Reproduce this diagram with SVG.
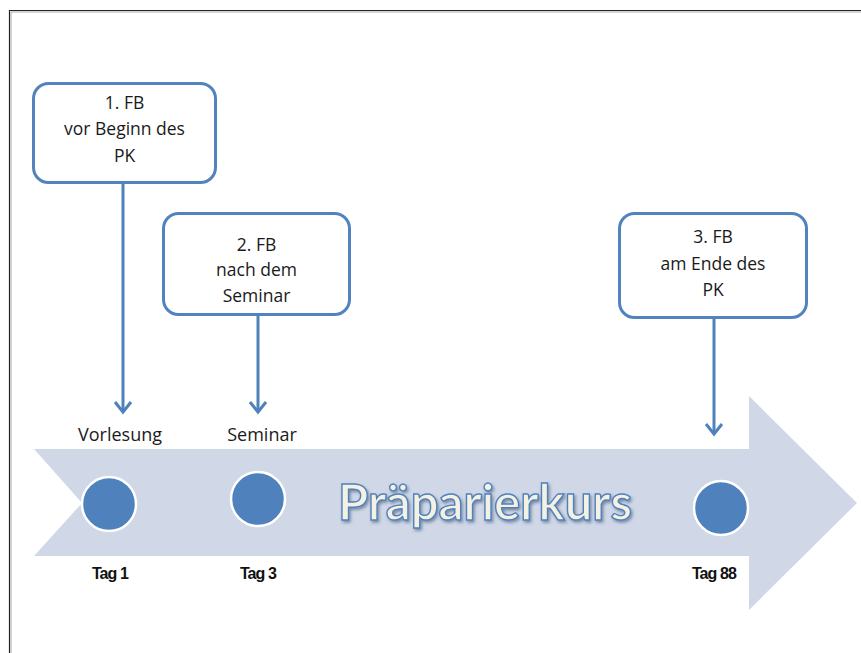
<svg xmlns="http://www.w3.org/2000/svg" width="861" height="653" viewBox="0 0 861 653">
<style>
.box{fill:#fff;stroke:#5283BF;stroke-width:3}
.bt{font-family:"Open Sans","Noto Sans",sans-serif;font-size:17.5px;fill:#1a1a1a;text-anchor:middle}
.lbl{font-family:"Open Sans","Noto Sans",sans-serif;font-size:18px;fill:#1a1a1a;text-anchor:middle}
.tag{font-family:"Liberation Sans",Arial,sans-serif;font-size:16px;font-weight:bold;fill:#111;text-anchor:middle;letter-spacing:-0.9px}
.dot{fill:#4F81BD;stroke:#fff;stroke-width:2.5}
.con{stroke:#4F81BD;stroke-width:3;fill:none}
</style>
<defs>
<marker id="ah" markerUnits="userSpaceOnUse" markerWidth="24" markerHeight="24" viewBox="-12 -14 24 24" refX="0" refY="0" orient="auto">
<path d="M-10,-8 L0,0 L-10,8" fill="none" stroke="#4F81BD" stroke-width="3"/>
</marker>
<filter id="sh" x="-10%" y="-20%" width="120%" height="150%">
<feDropShadow dx="1.5" dy="2" stdDeviation="1.5" flood-color="#1F3A60" flood-opacity="0.5"/>
</filter>
</defs>
<rect x="0" y="0" width="861" height="653" fill="#fff"/>
<path d="M9.5,653 V10.5 H861" fill="none" stroke="#222" stroke-width="1.2"/>
<path d="M11,653 V12 H861" fill="none" stroke="#aaa" stroke-width="1"/>
<g id="timeline">
<polygon points="34,449 749,449 749,396 857,503 749,610 749,556 34,556 82,503" fill="#D0D8E8"/>
<text x="338" y="520" font-family="Lato,'Open Sans',sans-serif" font-weight="bold" font-size="50" textLength="294" lengthAdjust="spacingAndGlyphs" fill="#F4F1E2" stroke="#4F81BD" stroke-width="1.4" filter="url(#sh)">Präparierkurs</text>
</g>
<g id="connectors">
<line class="con" x1="123" y1="183" x2="123" y2="412" marker-end="url(#ah)"/>
<line class="con" x1="258" y1="315" x2="258" y2="412" marker-end="url(#ah)"/>
<line class="con" x1="714" y1="318" x2="714" y2="434" marker-end="url(#ah)"/>
</g>
<g id="fb1">
<rect class="box" x="33.5" y="83.5" width="182" height="99" rx="15"/>
<text class="bt" x="124.5" y="109">1. FB</text>
<text class="bt" x="124.5" y="135">vor Beginn des</text>
<text class="bt" x="124.5" y="162">PK</text>
</g>
<g id="fb2">
<rect class="box" x="163.5" y="213.5" width="186" height="101" rx="15"/>
<text class="bt" x="256.5" y="251">2. FB</text>
<text class="bt" x="256.5" y="276">nach dem</text>
<text class="bt" x="256.5" y="302">Seminar</text>
</g>
<g id="fb3">
<rect class="box" x="619.5" y="213.5" width="187" height="104" rx="15"/>
<text class="bt" x="713" y="243">3. FB</text>
<text class="bt" x="713" y="270">am Ende des</text>
<text class="bt" x="713" y="296">PK</text>
</g>
<g id="tag1">
<text class="lbl" x="120" y="441">Vorlesung</text>
<circle class="dot" cx="109" cy="504" r="27"/>
<text class="tag" x="110" y="579">Tag 1</text>
</g>
<g id="tag3">
<text class="lbl" x="262" y="441">Seminar</text>
<circle class="dot" cx="258" cy="499" r="27"/>
<text class="tag" x="258" y="579">Tag 3</text>
</g>
<g id="tag88">
<circle class="dot" cx="721" cy="508" r="27"/>
<text class="tag" x="714" y="579">Tag 88</text>
</g>
</svg>
